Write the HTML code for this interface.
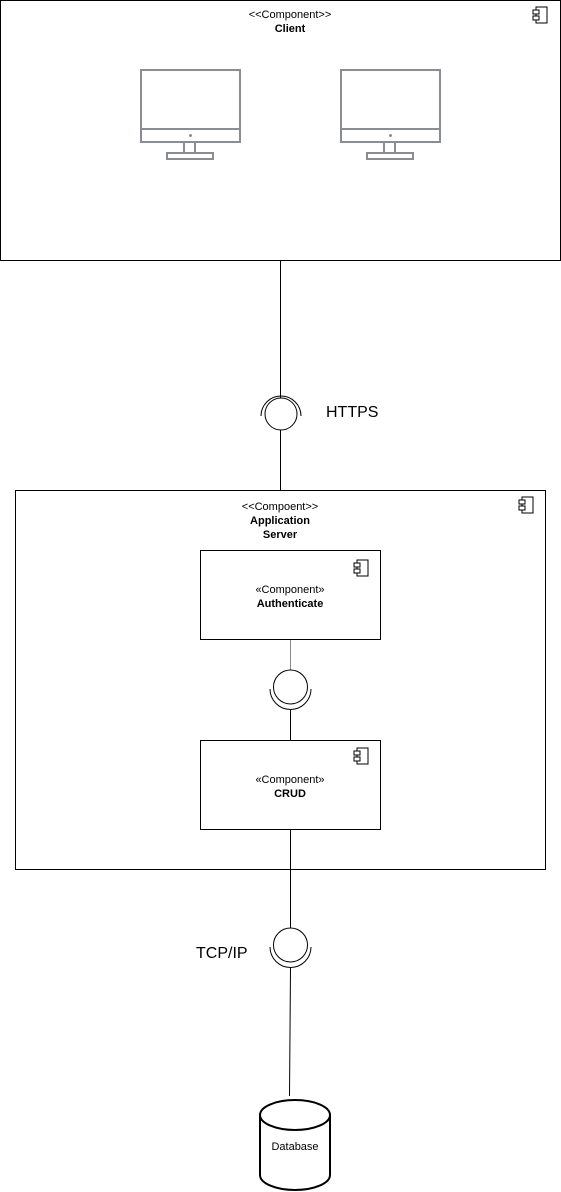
<!DOCTYPE html>
<html><head><meta charset="utf-8"><style>
html,body{margin:0;padding:0;background:#fff;}
svg{display:block;}
text{font-family:"Liberation Sans",Arial,sans-serif;fill:#000;}
</style></head><body>
<svg width="561" height="1192" viewBox="0 0 561 1192" xmlns="http://www.w3.org/2000/svg">
<defs>
<g id="ci" fill="#fff" stroke="#000" stroke-width="1">
<rect x="3" y="0" width="11" height="16"/>
<rect x="0" y="3" width="6" height="4"/>
<rect x="0" y="9" width="6" height="4"/>
</g>
<g id="mon" fill="none" stroke="#8a8d91" stroke-width="2">
<rect x="0" y="0" width="99" height="72"/>
<line x1="0" y1="59" x2="99" y2="59"/>
<rect x="43" y="72" width="11" height="11"/>
<rect x="26" y="83" width="46" height="6"/>
<circle cx="49.5" cy="65.5" r="1.5" fill="#8a8d91" stroke="none"/>
</g>
</defs>
<rect x="0.5" y="0.5" width="560" height="260" fill="#fff" stroke="#000"/>
<use href="#ci" x="533" y="7"/>
<text x="290" y="18" font-size="11" text-anchor="middle">&lt;&lt;Component&gt;&gt;</text>
<text x="290" y="32" font-size="11" font-weight="bold" text-anchor="middle">Client</text>
<use href="#mon" x="141" y="70"/>
<use href="#mon" x="341" y="70"/>
<line x1="280.5" y1="260" x2="280.5" y2="398" stroke="#000"/>
<circle cx="281" cy="414" r="16" fill="#fff" stroke="#000"/>
<path d="M261 416 A20 20 0 0 1 301 416" fill="none" stroke="#000"/>
<line x1="280.5" y1="430" x2="280.5" y2="490" stroke="#000"/>
<text x="326" y="417" font-size="16">HTTPS</text>
<rect x="15.5" y="490.5" width="530" height="379" fill="#fff" stroke="#000"/>
<use href="#ci" x="519" y="497"/>
<text x="280" y="510" font-size="11" text-anchor="middle">&lt;&lt;Compoent&gt;&gt;</text>
<text x="280" y="524" font-size="11" font-weight="bold" text-anchor="middle">Application</text>
<text x="280" y="538" font-size="11" font-weight="bold" text-anchor="middle">Server</text>
<rect x="200.5" y="550.5" width="180" height="89" fill="#fff" stroke="#000"/>
<use href="#ci" x="354" y="560"/>
<text x="290" y="593" font-size="11" text-anchor="middle">«Component»</text>
<text x="290" y="607" font-size="11" font-weight="bold" text-anchor="middle">Authenticate</text>
<line x1="290.5" y1="640" x2="290.5" y2="670" stroke="#888"/>
<circle cx="290.5" cy="687" r="17" fill="#fff" stroke="#000"/>
<path d="M270 689 A20.5 20.5 0 0 0 311 689" fill="none" stroke="#000"/>
<line x1="290.5" y1="710" x2="290.5" y2="740" stroke="#000"/>
<rect x="200.5" y="740.5" width="180" height="89" fill="#fff" stroke="#000"/>
<use href="#ci" x="354" y="748"/>
<text x="290" y="783" font-size="11" text-anchor="middle">«Component»</text>
<text x="290" y="797" font-size="11" font-weight="bold" text-anchor="middle">CRUD</text>
<line x1="290.5" y1="830" x2="290.5" y2="928" stroke="#000"/>
<circle cx="290.5" cy="945" r="17" fill="#fff" stroke="#000"/>
<path d="M270 947 A20.5 20.5 0 0 0 311 947" fill="none" stroke="#000"/>
<line x1="290.5" y1="968" x2="289.5" y2="1096" stroke="#000"/>
<text x="196" y="958" font-size="16">TCP/IP</text>
<path d="M260 1115 L260 1175 A35 15 0 0 0 330 1175 L330 1115" fill="#fff" stroke="#000" stroke-width="2"/>
<ellipse cx="295" cy="1115" rx="35" ry="15" fill="#fff" stroke="#000" stroke-width="2"/>
<text x="295" y="1150" font-size="11" text-anchor="middle">Database</text>
</svg>
</body></html>
